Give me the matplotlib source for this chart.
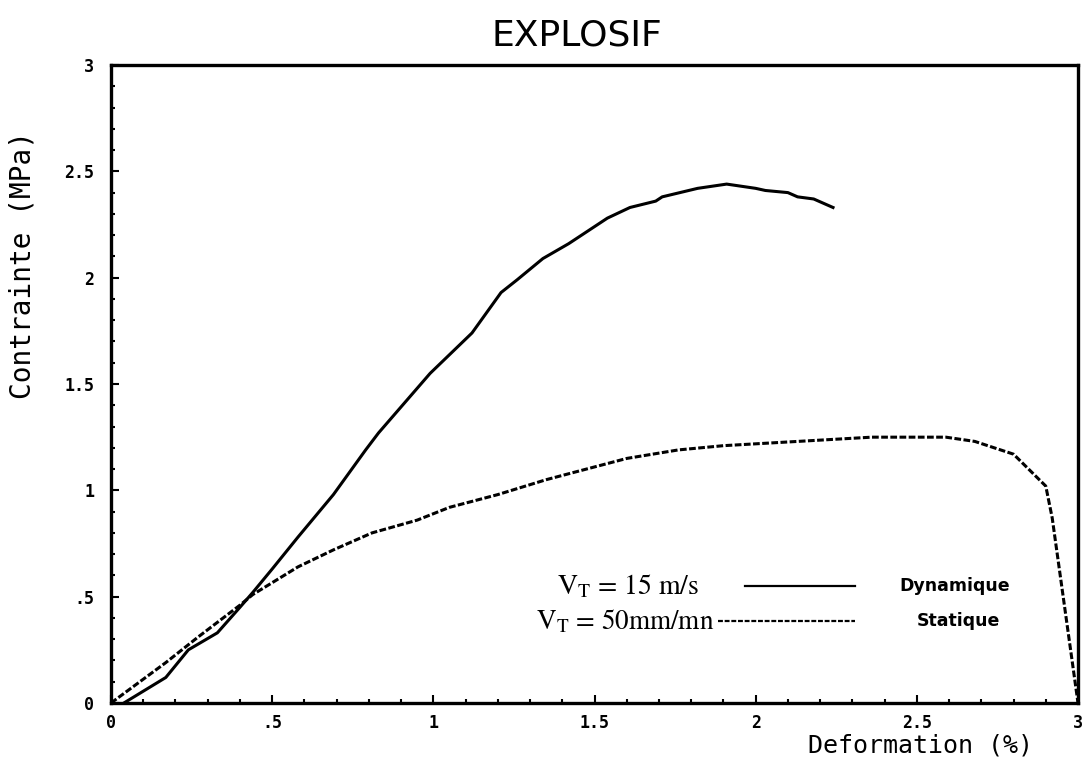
import matplotlib
matplotlib.use("Agg")
import matplotlib.pyplot as plt
from matplotlib.ticker import MultipleLocator, FixedLocator, FixedFormatter

# ---- data ----
dyn_x = [0.04, 0.17, 0.24, 0.33, 0.40, 0.44, 0.50, 0.58, 0.69, 0.79, 0.83, 0.99,
         1.12, 1.21, 1.26, 1.34, 1.42, 1.54, 1.61, 1.69, 1.71, 1.82, 1.91, 2.00,
         2.03, 2.10, 2.13, 2.18, 2.24]
dyn_y = [0.00, 0.12, 0.25, 0.33, 0.45, 0.52, 0.63, 0.78, 0.98, 1.19, 1.27, 1.55,
         1.74, 1.93, 1.99, 2.09, 2.16, 2.28, 2.33, 2.36, 2.38, 2.42, 2.44, 2.42,
         2.41, 2.40, 2.38, 2.37, 2.33]

sta_x = [0.00, 0.17, 0.27, 0.40, 0.44, 0.58, 0.69, 0.81, 0.95, 1.05, 1.20, 1.35,
         1.60, 1.76, 1.90, 2.13, 2.36, 2.59, 2.68, 2.80, 2.90, 2.92, 3.00]
sta_y = [0.00, 0.19, 0.31, 0.46, 0.51, 0.64, 0.72, 0.80, 0.86, 0.92, 0.98, 1.05,
         1.15, 1.19, 1.21, 1.23, 1.25, 1.25, 1.23, 1.17, 1.02, 0.87, 0.00]

tick_vals = [0, 0.5, 1, 1.5, 2, 2.5, 3]
tick_labels = ["0", ".5", "1", "1.5", "2", "2.5", "3"]

title = "EXPLOSIF"
xlabel = "Deformation (%)"
ylabel = "Contrainte (MPa)"
leg_dyn = r"$\mathrm{V_T}$ = 15 m/s"
leg_sta = r"$\mathrm{V_T}$ = 50mm/mn"
name_dyn = "Dynamique"
name_sta = "Statique"

plt.rcParams["mathtext.fontset"] = "stix"

W, H = 1092, 759
fig = plt.figure(figsize=(W / 100, H / 100), dpi=100)
ax = fig.add_axes([111 / W, 1 - 703 / H, (1078 - 111) / W, (703 - 65) / H])

ax.plot(dyn_x, dyn_y, color="black", lw=2.2, solid_joinstyle="round")
ax.plot(sta_x, sta_y, color="black", lw=2.2, dashes=(2.2, 0.8))

ax.set_xlim(0, 3)
ax.set_ylim(0, 3)

mono = "DejaVu Sans Mono"
for axis in (ax.xaxis, ax.yaxis):
    axis.set_major_locator(FixedLocator(tick_vals))
    axis.set_major_formatter(FixedFormatter(tick_labels))
    axis.set_minor_locator(MultipleLocator(0.1))

ax.tick_params(which="both", direction="in", width=1.5, colors="black")
ax.tick_params(which="major", length=6)
ax.tick_params(which="minor", length=3)
ax.tick_params(axis="y", which="major", pad=12)
ax.tick_params(axis="x", which="major", pad=8)
for lab in ax.get_xticklabels() + ax.get_yticklabels():
    lab.set_fontfamily(mono)
    lab.set_fontweight("bold")
    lab.set_fontsize(12)

for s in ax.spines.values():
    s.set_linewidth(2.4)

# title and axis labels
fig.text(577 / W, 1 - 36 / H, title, ha="center", va="center",
         fontsize=26, family="DejaVu Sans")
fig.text(920 / W, 1 - 745 / H, xlabel, ha="center", va="center",
         fontsize=18, family=mono)
fig.text(23 / W, 1 - 265 / H, ylabel, ha="center", va="center",
         rotation=90, fontsize=20, family=mono)

def fx(px):
    return (px - 111) / (1078 - 111) * 3

def fy(py):
    return (703 - py) / (703 - 65) * 3

# in-plot legend annotations
ax.text(fx(557), fy(586), leg_dyn, ha="left", va="center", fontsize=20,
        family="STIXGeneral")
ax.text(fx(536), fy(621), leg_sta, ha="left", va="center", fontsize=19.5,
        family="STIXGeneral")
ax.plot([fx(745), fx(855)], [fy(586), fy(586)], color="black", lw=1.6)
ax.plot([fx(718), fx(855)], [fy(621), fy(621)], color="black", lw=1.6,
        dashes=(2.2, 0.8))
ax.text(fx(955), fy(586), name_dyn, ha="center", va="center", fontsize=12.5,
        family="DejaVu Sans", fontweight="bold")
ax.text(fx(958), fy(621), name_sta, ha="center", va="center", fontsize=12.5,
        family="DejaVu Sans", fontweight="bold")

fig.savefig("out.png", dpi=100)
